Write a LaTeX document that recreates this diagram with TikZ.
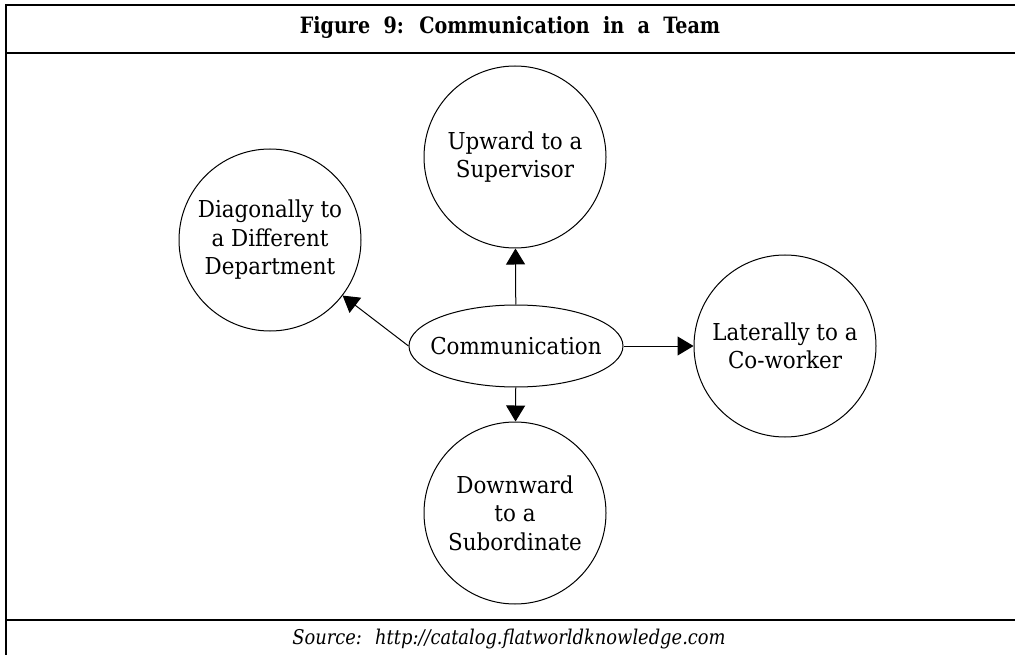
\documentclass[tikz,border=0pt]{standalone}
\usepackage{fontspec}
\setmainfont[FakeStretch=0.92]{DejaVu Serif}
\newfontfamily\titlefont[FakeStretch=0.85]{DejaVu Serif}
\newfontfamily\srcfont[FakeStretch=0.88]{DejaVu Serif}
\usetikzlibrary{shapes.geometric,arrows.meta}
\tikzset{
  bubble/.style={circle,draw,line width=1pt,minimum size=182pt,inner sep=0pt,align=center,
    font=\fontsize{23.3}{28.5}\selectfont},
  hub/.style={ellipse,draw,line width=1pt,minimum width=214pt,minimum height=82pt,
    inner xsep=-11pt,inner ysep=0pt,
    font=\fontsize{23.3}{28.5}\selectfont},
  arr/.style={line width=1pt,-{Triangle[length=16pt,width=19pt]}},
  frame/.style={line width=1.6pt},
}
\begin{document}
\begin{tikzpicture}[x=1pt,y=-1pt]
\useasboundingbox (0,0) rectangle (1015,655);
% frame
\draw[frame] (1030,5) -- (6,5) -- (6,670);
\draw[frame] (6,53) -- (1030,53);
\draw[frame] (6,620) -- (1030,620);
\node[font=\titlefont\fontsize{22.5}{26}\selectfont\bfseries] (title) at (510,27) {Figure~ 9:~ Communication~ in~ a~ Team};
\node[font=\srcfont\fontsize{20.3}{24}\selectfont\itshape] (src) at (509,639) {Source:~ http://catalog.flatworldknowledge.com};
% nodes
\node[hub] (comm) at (516,346) {Communication};
\node[bubble] (up) at (515,157) {Upward to a\\Supervisor};
\node[bubble] (diag) at (270,240) {Diagonally to\\a Different\\Department};
\node[bubble] (lat) at (785,346) {Laterally to a\\Co-worker};
\node[bubble] (down) at (515,513) {Downward\\to a\\Subordinate};
% connectors
\draw[arr] (comm) -- (up);
\draw[arr] (comm) -- (lat);
\draw[arr] (comm) -- (down);
\draw[arr] (comm.west) -- (diag);
\end{tikzpicture}
\end{document}
